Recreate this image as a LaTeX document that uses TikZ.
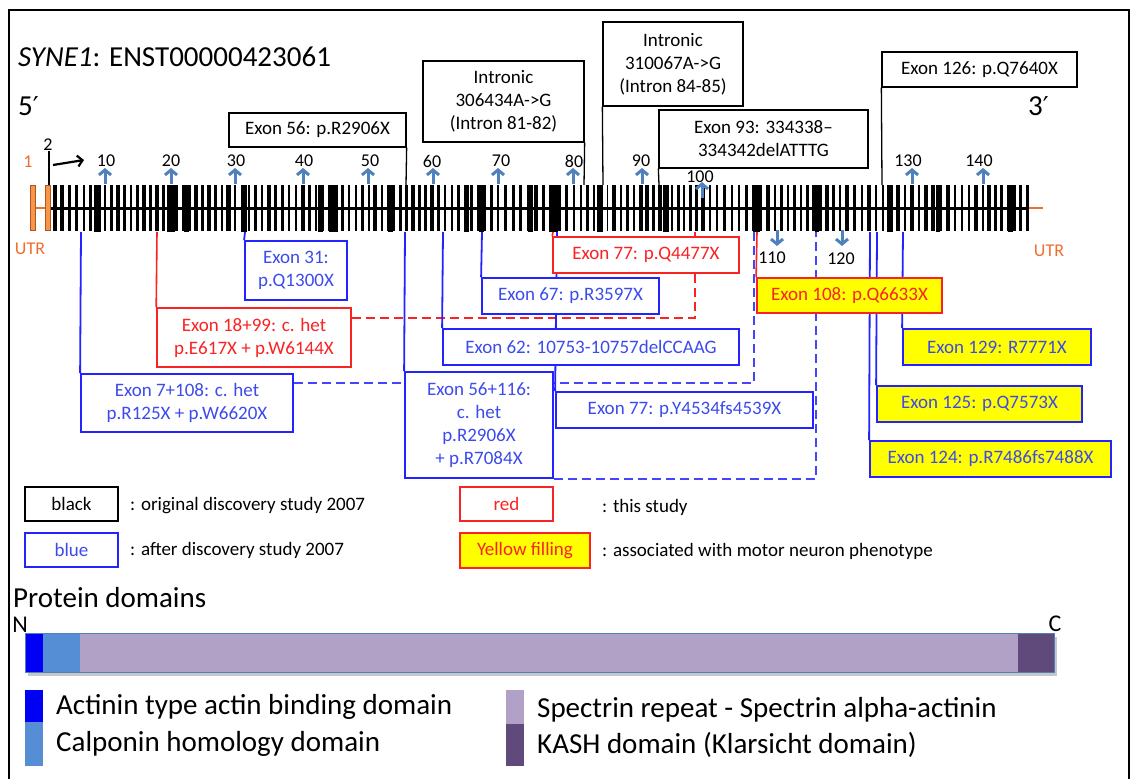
\documentclass[tikz,border=0pt]{standalone}
\usepackage{fontspec}
\setmainfont{Carlito}
\newfontfamily\dejavu{DejaVu Sans}
\usetikzlibrary{arrows.meta,calc}
\definecolor{bl}{RGB}{35,35,255}
\definecolor{bltxt}{RGB}{60,75,235}
\definecolor{rd}{RGB}{250,35,35}
\definecolor{ylw}{RGB}{255,255,0}
\definecolor{steel}{RGB}{79,129,189}
\definecolor{org}{RGB}{240,110,45}
\definecolor{orgfill}{RGB}{247,150,70}
\definecolor{dblue}{RGB}{0,0,245}
\definecolor{lblue}{RGB}{85,142,213}
\definecolor{lav}{RGB}{178,161,199}
\definecolor{purp}{RGB}{96,74,123}
\begin{document}
\begin{tikzpicture}[x=1pt,y=-1pt,
  bx/.style={rectangle, inner sep=0pt, align=center, font=\fontsize{19}{23}\selectfont},
  sz/.style 2 args={minimum width=#1, minimum height=#2},
  blk/.style={bx, draw=black, line width=1.3pt, fill=white},
  blu/.style={bx, draw=bl, line width=1.8pt, fill=white, text=bltxt},
  rbox/.style={bx, draw=rd, line width=1.6pt, fill=white, text=rd},
  yr/.style={bx, draw=rd, line width=1.8pt, fill=ylw, text=rd},
  yb/.style={bx, draw=bl, line width=1.8pt, fill=ylw, text=bltxt},
  bline/.style={draw=bl, line width=1.8pt},
  rline/.style={draw=rd, line width=1.6pt},
  kline/.style={draw=black, line width=1.3pt},
  bdash/.style={draw=bl!85!white, line width=1.8pt, dash pattern=on 9pt off 5pt},
  rdash/.style={draw=rd, line width=1.6pt, dash pattern=on 9pt off 5pt},
  lab/.style={inner sep=0pt, font=\fontsize{18}{20}\selectfont},
  tick/.style={draw=steel, line width=3pt, -{Straight Barb[length=5pt,width=12pt]}},
  leg/.style={inner sep=0pt, anchor=west, font=\fontsize{19}{22}\selectfont},
  big/.style={inner sep=0pt, anchor=west, font=\fontsize{29}{34}\selectfont}
]
\useasboundingbox (0,0) rectangle (1134,779);
% frame
\draw[line width=1.3pt] (9,779) -- (9,10) -- (1129,10) -- (1129,779);

% title
\node[inner sep=0pt, anchor=base west, font=\fontsize{29}{34}\selectfont] (title) at (18,66) {\textit{SYNE1}: ENST00000423061};
\node[inner sep=0pt, anchor=base west, font=\fontsize{29}{34}\selectfont] (five) at (18,115) {5{\dejavu\fontsize{26}{30}\selectfont ′}};
\node[inner sep=0pt, anchor=base west, font=\fontsize{29}{34}\selectfont] (three) at (1028,115) {3{\dejavu\fontsize{26}{30}\selectfont ′}};

% intron line and UTR
\draw[org, line width=2pt] (33,208) -- (47,208);
\draw[org, line width=2.5pt] (1025,208) -- (1043,208);
\draw[black, line width=3pt] (48,208) -- (1027,208);
\filldraw[fill=orgfill, draw=org!75!black, line width=0.6pt] (30,185) rectangle (35,230);
\filldraw[fill=orgfill, draw=org!75!black, line width=0.6pt] (45,185) rectangle (50,230);

% exon bars
\pgfmathsetseed{11}
\foreach \na/\xa/\nb/\xb in {3/55/10/105,10/105/20/170,20/170/30/235,30/235/40/303,40/303/50/369,50/369/60/432,60/432/70/498,70/498/80/574,80/574/90/641,90/641/100/703,100/703/110/775,110/775/120/840,120/840/130/912,130/912/140/983,140/983/146/1020}{
  \pgfmathtruncatemacro\cnt{\nb-\na-1}
  \foreach \k in {0,...,\cnt}{
    \pgfmathsetmacro\xx{\xa+(\xb-\xa)*\k/(\nb-\na)}
    \pgfmathsetmacro\ww{1.8+2.4*rnd}
    \fill (\xx-\ww/2,185) rectangle (\xx+\ww/2,231);
  }
}
\fill (1018.5,185) rectangle (1021.5,231);
\fill (1025.5,185) rectangle (1028.5,231);
\foreach \c/\w in {97/7,171/8,186/5,244/6,320/5,333/9,390/5,466/5,481/5,530/5,553/9,600/6,666/6,756/7,817/4,890/6,938/4,1010/5}{
  \fill (\c-\w/2,185) rectangle (\c+\w/2,232);
}

% exon number ticks
\foreach \x/\lx/\l in {105/106/10,171/171/20,235/236/30,303/304/40,368/370/50,433/432/60,498/501/70,573/574/80,642/641/90,912/908/130,983/979/140}{
  \coordinate (ub\l) at (\x,184);
  \coordinate (ut\l) at (\x,168);
  \draw[tick] (ub\l) -- (ut\l);
  \node[lab] (n\l) at (\lx,161) {\l};
}
\coordinate (ub100) at (702,198);
\coordinate (ut100) at (702,182);
\draw[tick] (ub100) -- (ut100);
\node[lab] (n100) at (700,177) {100};
\coordinate (ub110) at (777,230);
\coordinate (ut110) at (777,246);
\draw[tick] (ub110) -- (ut110);
\node[lab] (n110) at (772,258) {110};
\coordinate (ub120) at (842,230);
\coordinate (ut120) at (842,246);
\draw[tick] (ub120) -- (ut120);
\node[lab] (n120) at (841,259) {120};

% exon 1/2 labels
\node[lab, text=org] (n1) at (28,162) {1};
\node[lab] (n2) at (48,145) {2};
\coordinate (e2) at (49,185);
\draw[black, line width=2pt] (n2.south) ++(1,0) -- (e2);
\coordinate (s1) at (53,165);
\coordinate (s2) at (84,160);
\draw[black, line width=2.2pt, -{Straight Barb[length=5pt,width=11pt]}] (s1) -- (s2);
\node[lab, text=org] (utrL) at (30,249) {UTR};
\node[lab, text=org] (utrR) at (1049,251) {UTR};

% exon anchor coordinates
\coordinate (e7) at (81,232);
\coordinate (e18) at (157,232);
\coordinate (e31) at (245,232);
\coordinate (e56) at (405,232);
\coordinate (e56t) at (406,185);
\coordinate (e62) at (443,232);
\coordinate (e67) at (482,232);
\coordinate (e77r) at (553,232);
\coordinate (e77b) at (557,232);
\coordinate (e99) at (695,232);
\coordinate (e108b) at (754,232);
\coordinate (e108) at (757,232);
\coordinate (e116) at (816,232);
\coordinate (e124) at (870,232);
\coordinate (e125) at (877,232);
\coordinate (e129) at (903,232);
\coordinate (i81) at (584,185);
\coordinate (i84) at (603,185);
\coordinate (e93) at (659,185);
\coordinate (e126) at (882,185);

% box frames (positions, for connectors)
\path
 node[blk, sz={177}{34}, draw=none, fill=none] (b56) at (317.5,130) {}
 node[blk, sz={161}{81}, draw=none, fill=none] (bi81) at (503.5,101.5) {}
 node[blk, sz={140}{84}, draw=none, fill=none] (bi84) at (673,64) {}
 node[blk, sz={209}{58}, draw=none, fill=none] (b93) at (763.5,139) {}
 node[blk, sz={195}{35}, draw=none, fill=none] (b126) at (979.5,69.5) {}
 node[blu, sz={102}{59}, draw=none, fill=none] (b31) at (296,270.5) {}
 node[rbox, sz={194}{59}, draw=none, fill=none] (b1899) at (254,337.5) {}
 node[blu, sz={212}{58}, draw=none, fill=none] (b7108) at (187,403) {}
 node[blu, sz={148}{106}, draw=none, fill=none] (b56116) at (479,425) {}
 node[blu, sz={296}{36}, draw=none, fill=none] (b62) at (591,347) {}
 node[blu, sz={177}{36}, draw=none, fill=none] (b67) at (570.5,296) {}
 node[rbox, sz={186}{36}, draw=none, fill=none] (b77r) at (646,255) {}
 node[blu, sz={257}{36}, draw=none, fill=none] (b77b) at (684.5,410) {}
 node[yr, sz={185}{35}, draw=none, fill=none] (b108) at (849.5,295.5) {}
 node[yb, sz={188}{36}, draw=none, fill=none] (b129) at (997,347) {}
 node[yb, sz={205}{36}, draw=none, fill=none] (b125) at (979.5,404) {}
 node[yb, sz={241}{36}, draw=none, fill=none] (b124) at (990.5,459) {};

% connectors
\draw[kline] (b56.south east) -- (e56t);
\draw[kline] (bi81.south east) -- (i81);
\draw[kline] (bi84.south west) -- (i84);
\draw[kline] (b93.south west) -- (e93);
\draw[kline] (b126.south west) -- (e126);
\draw[rdash] ([yshift=-11pt]b1899.north east) -| (e99);
\draw[bdash] ([yshift=-10pt]b7108.north east) -| (e108b);
\draw[bdash] (b56116.south east) -| (e116);
\draw[bline] (e7) -- (b7108.north west);
\draw[rline] (e18) -- (b1899.north west);
\draw[bline] (e31) -- (b31.north west);
\draw[bline] (e56) -- (b56116.north west);
\draw[bline] (e62) -- (b62.north west);
\draw[bline] (e67) -- (b67.north west);
\draw[bline] (e77b) -- (b77b.north west);
\draw[rline] (e77r) -- (b77r.north west);
\draw[rline] (e108) -- (b108.north west);
\draw[bline] (e124) -- (b124.north west);
\draw[bline] (e125) -- (b125.north west);
\draw[bline] (e129) -- (b129.north west);

% boxes drawn
\node[blk, sz={177}{34}] (B56) at (b56) {Exon 56: p.R2906X};
\node[blk, sz={161}{81}] (BI81) at (bi81) {Intronic\\306434A-\textgreater G\\(Intron 81-82)};
\node[blk, sz={140}{84}] (BI84) at (bi84) {Intronic\\310067A-\textgreater G\\(Intron 84-85)};
\node[blk, sz={209}{58}] (B93) at (b93) {Exon 93: 334338–\\334342delATTTG};
\node[blk, sz={195}{35}] (B126) at (b126) {Exon 126: p.Q7640X};
\node[blu, sz={102}{59}] (B31) at (b31) {Exon 31:\\p.Q1300X};
\node[rbox, sz={194}{59}] (B1899) at (b1899) {Exon 18+99: c. het\\p.E617X + p.W6144X};
\node[blu, sz={212}{58}] (B7108) at (b7108) {Exon 7+108: c. het\\p.R125X + p.W6620X};
\node[blu, sz={148}{106}] (B56116) at (b56116) {Exon 56+116:\\c. het\\p.R2906X\\+ p.R7084X};
\node[blu, sz={296}{36}] (B62) at (b62) {Exon 62: 10753-10757delCCAAG};
\node[blu, sz={177}{36}] (B67) at (b67) {Exon 67: p.R3597X};
\node[rbox, sz={186}{36}] (B77r) at (b77r) {Exon 77: p.Q4477X};
\node[blu, sz={257}{36}] (B77b) at (b77b) {Exon 77: p.Y4534fs4539X};
\node[yr, sz={185}{35}] (B108) at (b108) {Exon 108: p.Q6633X};
\node[yb, sz={188}{36}] (B129) at (b129) {Exon 129: R7771X};
\node[yb, sz={205}{36}] (B125) at (b125) {Exon 125: p.Q7573X};
\node[yb, sz={241}{36}] (B124) at (b124) {Exon 124: p.R7486fs7488X};

% legend
\node[blk, sz={93}{34}, line width=1.6pt] (lk) at (71.5,504) {black};
\node[blu, sz={93}{34}] (lb) at (71.5,550) {blue};
\node[rbox, sz={93}{34}] (lr) at (506.5,504) {red};
\node[yr, sz={130}{35}] (ly) at (525,550.5) {Yellow filling};
\node[leg] (tk) at (130,506) {: original discovery study 2007};
\node[leg] (tb) at (130,550) {: after discovery study 2007};
\node[leg] (tr) at (602,507) {: this study};
\node[leg] (ty) at (602,551) {: associated with motor neuron phenotype};

% protein domains
\node[big] (pd) at (13,598) {Protein domains};
\node[inner sep=0pt, font=\fontsize{24}{27}\selectfont] (nN) at (20,625) {N};
\node[inner sep=0pt, font=\fontsize{24}{27}\selectfont] (nC) at (1055,624) {C};
\fill[black!22] (28,637) rectangle (1057,676);
\fill[dblue] (25,633) rectangle (43,672);
\fill[lblue] (43,633) rectangle (80,672);
\fill[lav] (80,633) rectangle (1018,672);
\fill[purp] (1018,633) rectangle (1054,672);
\draw[steel, line width=1pt] (25,633) rectangle (1054,672);

\fill[dblue] (25,690) rectangle (43,722);
\fill[lblue] (25,722) rectangle (43,766);
\fill[lav] (506,690) rectangle (524,724);
\fill[purp] (506,724) rectangle (524,766);
\node[big] (d1) at (56,707) {Actinin type actin binding domain};
\node[big] (d2) at (56,744) {Calponin homology domain};
\node[big] (d3) at (537,710) {Spectrin repeat - Spectrin alpha-actinin};
\node[big] (d4) at (537,745) {KASH domain (Klarsicht domain)};
\end{tikzpicture}
\end{document}
